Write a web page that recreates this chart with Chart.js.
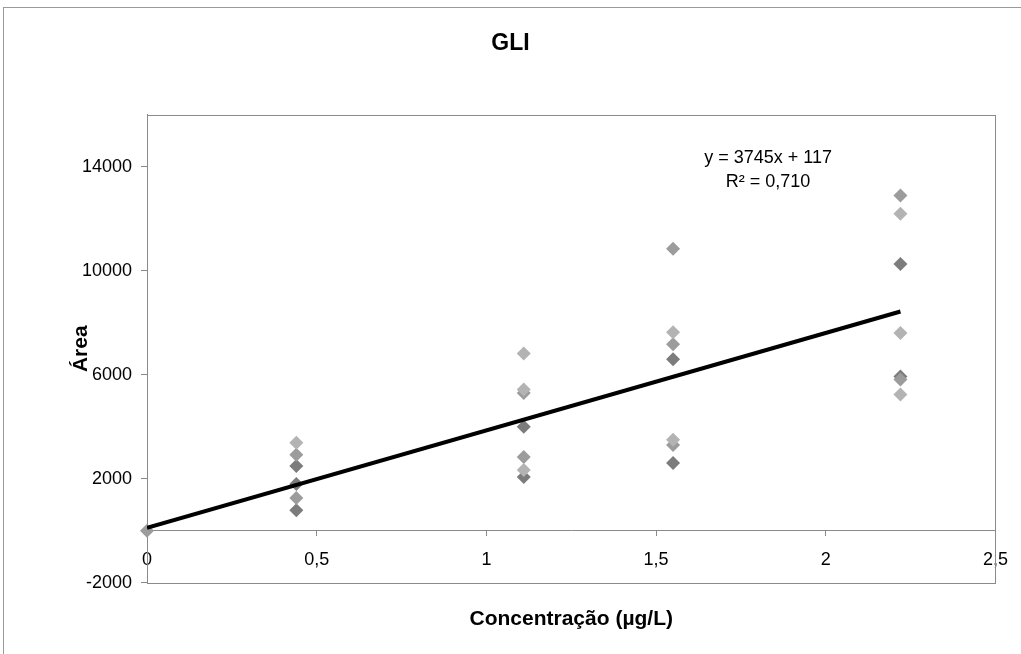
<!DOCTYPE html>
<html lang="pt">
<head>
  <meta charset="UTF-8" />
  <title>GLI</title>
  <script src="https://cdn.jsdelivr.net/npm/chart.js@4.4.0/dist/chart.umd.min.js"></script>
  <style>
    html, body { margin: 0; padding: 0; background: #fff; }
    #wrap { width: 1021px; height: 654px; }
  </style>
</head>
<body>

  <div id="wrap"><canvas id="gliChart" width="1021" height="654"></canvas></div>

  <script>
    const xTicks = [0, 0.5, 1, 1.5, 2, 2.5];
    const yTicks = [-2000, 2000, 6000, 10000, 14000];

    // replicate measurements, grouped by marker shade
    const lightX = [0.44, 1.11, 1.11, 1.11, 1.55, 1.55, 2.22, 2.22, 2.22];
    const lightY = [3380, 6820, 5430, 2340, 7630, 3500, 12190, 7600, 5240];
    const mediumX = [0, 0.44, 0.44, 1.11, 1.11, 1.55, 1.55, 1.55, 2.22, 2.22];
    const mediumY = [0, 2920, 1260, 5300, 2840, 10840, 7170, 3300, 12890, 5820];
    const darkX = [0.44, 0.44, 0.44, 1.11, 1.11, 1.55, 1.55, 2.22, 2.22];
    const darkY = [2490, 1800, 790, 4000, 2070, 6590, 2610, 10260, 5930];

    // linear trendline (y = 3745x + 117)
    const trendX = [0, 2.22];
    const trendY = [117, 8431];
    const equationLines = ['y = 3745x + 117', 'R² = 0,710'];

    const toPoints = (xs, ys) => xs.map((x, i) => ({ x: x, y: ys[i] }));

    const markerSet = (pts, color) => ({
      type: 'scatter',
      data: pts,
      pointStyle: 'rectRot',
      pointRadius: 7,
      pointHoverRadius: 7,
      pointBackgroundColor: color,
      pointBorderColor: color,
      pointBorderWidth: 0,
      clip: false,
      order: 2
    });

    // frame around the whole chart and around the plot area
    const framePlugin = {
      id: 'frame',
      beforeDraw(chart) {
        const ctx = chart.ctx;
        ctx.save();
        ctx.fillStyle = '#fff';
        ctx.fillRect(0, 0, chart.width, chart.height);
        ctx.strokeStyle = '#9a9a9a';
        ctx.lineWidth = 1;
        ctx.strokeRect(3.5, 7.5, chart.width + 10, chart.height + 10);
        ctx.restore();
      },
      beforeDatasetsDraw(chart) {
        const { ctx, chartArea: a } = chart;
        ctx.save();
        ctx.strokeStyle = '#8a8a8a';
        ctx.lineWidth = 1;
        ctx.strokeRect(Math.round(a.left) + 0.5, Math.round(a.top) + 0.5,
          Math.round(a.right - a.left), Math.round(a.bottom - a.top));
        ctx.restore();
      }
    };

    const equationPlugin = {
      id: 'equation',
      afterDatasetsDraw(chart) {
        const { ctx, scales } = chart;
        const px = scales.x.getPixelForValue(1.83);
        const py = scales.y.getPixelForValue(14320);
        ctx.save();
        ctx.fillStyle = '#000';
        ctx.font = '18px Arial, "Liberation Sans", sans-serif';
        ctx.textAlign = 'center';
        ctx.textBaseline = 'middle';
        equationLines.forEach((line, i) => ctx.fillText(line, px, py + i * 24));
        ctx.restore();
      }
    };

    const ctx = document.getElementById('gliChart').getContext('2d');

    new Chart(ctx, {
      type: 'scatter',
      data: {
        datasets: [
          {
            type: 'line',
            data: toPoints(trendX, trendY),
            borderColor: '#000',
            borderWidth: 4,
            pointRadius: 0,
            fill: false,
            order: 1
          },
          markerSet(toPoints(lightX, lightY), '#b3b3b3'),
          markerSet(toPoints(mediumX, mediumY), '#9c9c9c'),
          markerSet(toPoints(darkX, darkY), '#7c7c7c')
        ]
      },
      options: {
        responsive: false,
        animation: false,
        layout: { padding: 0 },
        plugins: {
          legend: { display: false },
          tooltip: { enabled: false },
          title: {
            display: true,
            text: 'GLI',
            color: '#000',
            font: { family: 'Arial', size: 23, weight: 'bold' },
            padding: { top: 30, bottom: 57 }
          }
        },
        scales: {
          x: {
            type: 'linear',
            position: { y: 0 },
            min: 0,
            max: 2.5,
            afterBuildTicks: s => { s.ticks = xTicks.map(v => ({ value: v })); },
            grid: { drawOnChartArea: false, drawTicks: true, tickLength: 5, color: '#8a8a8a' },
            border: { color: '#8a8a8a', width: 1 },
            ticks: {
              color: '#000',
              font: { family: 'Arial', size: 18 },
              padding: 13,
              maxRotation: 0,
              callback: v => String(v).replace('.', ',')
            }
          },
          xt: {
            type: 'linear',
            position: 'bottom',
            min: 0,
            max: 2.5,
            ticks: { display: false },
            grid: { display: false, drawTicks: false },
            border: { display: false },
            title: {
              display: true,
              text: 'Concentração (µg/L)',
              color: '#000',
              font: { family: 'Arial', size: 21, weight: 'bold' },
              padding: { top: 24, bottom: 22 }
            }
          },
          y: {
            type: 'linear',
            position: 'left',
            min: -2000,
            max: 16000,
            afterBuildTicks: s => { s.ticks = yTicks.map(v => ({ value: v })); },
            afterFit: s => { s.width = 147; },
            grid: { drawOnChartArea: false, drawTicks: true, tickLength: 6, color: '#8a8a8a' },
            border: { color: '#8a8a8a', width: 1 },
            ticks: {
              color: '#000',
              font: { family: 'Arial', size: 18 },
              padding: 9,
              callback: v => String(v)
            },
            title: {
              display: true,
              text: 'Área',
              color: '#000',
              font: { family: 'Arial', size: 21, weight: 'bold' },
              padding: { top: 69, bottom: 0 }
            }
          },
          // empty right-hand strip so the plot ends at 2,5 while the title centres on the page
          yr: {
            type: 'linear',
            position: 'right',
            ticks: { display: false },
            grid: { display: false, drawTicks: false },
            border: { display: false },
            afterFit: s => { s.width = 24; }
          }
        }
      },
      plugins: [framePlugin, equationPlugin]
    });
  </script>

</body>
</html>
